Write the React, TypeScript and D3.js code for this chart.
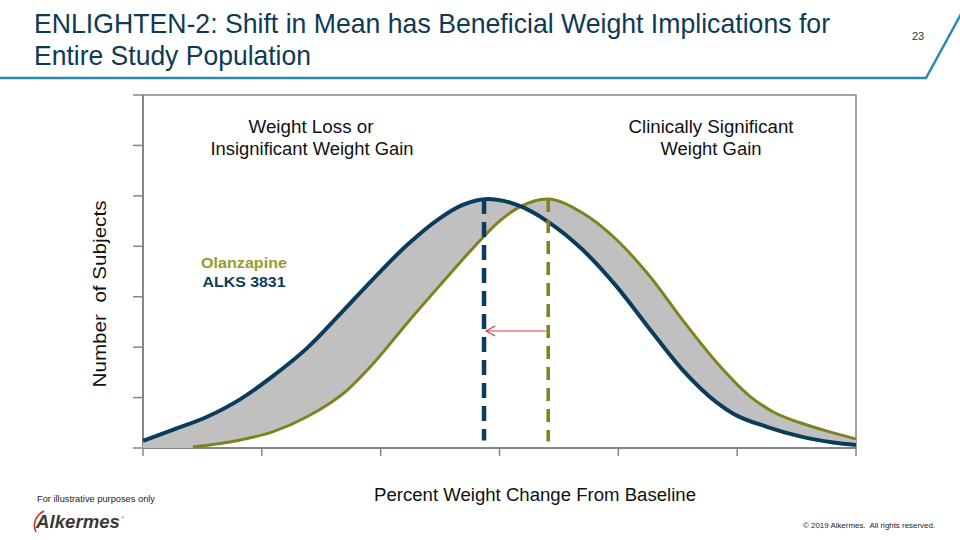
import React from "react";
import * as d3 from "d3";

// ---- data (arbitrary illustrative units) ----
const xTickValues = [0, 1, 2, 3, 4, 5, 6];
const yTickValues = [0, 1, 2, 3, 4, 5, 6, 7];

const alksX = [0, 0.25, 0.54, 0.82, 1.09, 1.38, 1.66, 1.94, 2.22, 2.5, 2.69, 2.9, 3.17, 3.4, 3.7, 3.99, 4.27, 4.54, 4.83, 4.96, 5.25, 5.53, 5.81, 6.0];
const alksY = [0.14, 0.36, 0.62, 0.97, 1.42, 1.98, 2.66, 3.36, 4.02, 4.56, 4.82, 4.94, 4.8, 4.5, 3.93, 3.19, 2.34, 1.55, 0.9, 0.69, 0.42, 0.23, 0.11, 0.06];

const olanzX = [0.42, 0.82, 1.09, 1.38, 1.72, 1.94, 2.22, 2.5, 2.78, 3.0, 3.17, 3.4, 3.7, 3.99, 4.27, 4.54, 4.83, 5.11, 5.3, 5.53, 5.81, 6.0];
const olanzY = [0.02, 0.16, 0.32, 0.62, 1.15, 1.68, 2.47, 3.23, 3.97, 4.5, 4.78, 4.94, 4.66, 4.12, 3.39, 2.54, 1.69, 1.02, 0.72, 0.5, 0.3, 0.18];

const alksMean = 2.87;
const olanzMean = 3.41;
const peakValue = 4.94;
const meanLineBottom = 0.15;
const arrowLevel = 2.32;

const titleLines = [
  "ENLIGHTEN-2: Shift in Mean has Beneficial Weight Implications for",
  "Entire Study Population",
];
const leftZoneLabel = ["Weight Loss or", "Insignificant Weight Gain"];
const rightZoneLabel = ["Clinically Significant", "Weight Gain"];
const seriesNames = ["Olanzapine", "ALKS 3831"];

const BLUE = "#0c3c5b";
const OLIVE = "#7e821f";
const OLIVE_TEXT = "#939c2f";
const AXIS = "#878787";
const TITLE = "#0d3b55";
const RULE = "#2b8ab4";

export default function App() {
  const left = 143, right = 856, top = 95, bottom = 448;
  const x = d3.scaleLinear().domain([0, 6]).range([left, right]);
  const y = d3.scaleLinear().domain([0, 7]).range([bottom, top]);

  const alksPts: [number, number][] = alksX.map((v, i) => [v, alksY[i]]);
  const olanzPts: [number, number][] = olanzX.map((v, i) => [v, olanzY[i]]);

  const line = d3
    .line<[number, number]>()
    .x((d) => x(d[0]))
    .y((d) => y(d[1]))
    .curve(d3.curveMonotoneX);

  const alksPath = line(alksPts) || "";
  const olanzPath = line(olanzPts) || "";
  const olanzRev = (line([...olanzPts].reverse()) || "").replace(/^M/, "L");
  const fillPath =
    alksPath +
    olanzRev +
    `L${x(olanzX[0])},${y(0)}L${x(0)},${y(0)}Z`;

  const font = "'Liberation Sans', Arial, sans-serif";
  const narrow = "'Liberation Sans Narrow', 'Arial Narrow', 'Liberation Sans', Arial, sans-serif";

  const ay = y(arrowLevel);
  const tipX = x(alksMean) + 2;

  return (
    <svg
      width={960}
      height={540}
      viewBox="0 0 960 540"
      style={{ position: "absolute", left: 0, top: 0, background: "#fff" }}
    >
      <rect x={0} y={0} width={960} height={540} fill="#fff" />
      {/* header */}
      <text x={34} y={33} fontFamily={narrow} fontSize={28} fill={TITLE} textLength={796} lengthAdjust="spacingAndGlyphs">
        {titleLines[0]}
      </text>
      <text x={34} y={65} fontFamily={narrow} fontSize={28} fill={TITLE} textLength={277} lengthAdjust="spacingAndGlyphs">
        {titleLines[1]}
      </text>
      <polyline points="0,78 926,78 961,14" fill="none" stroke={RULE} strokeWidth={2.5} />
      <text x={918} y={40} fontFamily={font} fontSize={11} fill="#333" textAnchor="middle">23</text>

      {/* plot box */}
      <rect x={left} y={top} width={right - left} height={bottom - top} fill="none" stroke={AXIS} strokeWidth={1.5} />
      <line x1={left} x2={left} y1={top} y2={bottom} stroke={AXIS} strokeWidth={2} />
      <line x1={left} x2={right} y1={bottom} y2={bottom} stroke={AXIS} strokeWidth={2} />
      {yTickValues.map((t) => (
        <line key={"yt" + t} x1={left - 10} x2={left} y1={y(t)} y2={y(t)} stroke={AXIS} strokeWidth={1.5} />
      ))}
      {xTickValues.map((t) => (
        <line key={"xt" + t} x1={x(t)} x2={x(t)} y1={bottom} y2={bottom + 8} stroke={AXIS} strokeWidth={1.5} />
      ))}

      {/* fill between curves */}
      <path d={fillPath} fill="#c0c0c0" stroke="none" />
      <path d={olanzPath} fill="none" stroke={OLIVE} strokeWidth={3} strokeLinejoin="round" />
      <path d={alksPath} fill="none" stroke={BLUE} strokeWidth={4} strokeLinejoin="round" />

      {/* mean lines */}
      <line x1={x(alksMean)} x2={x(alksMean)} y1={y(peakValue)} y2={y(meanLineBottom)} stroke={BLUE} strokeWidth={4.5} strokeDasharray="15 8" />
      <line x1={x(olanzMean)} x2={x(olanzMean)} y1={y(peakValue)} y2={y(meanLineBottom) + 1} stroke={OLIVE} strokeWidth={3.5} strokeDasharray="13 8" />

      {/* shift arrow */}
      <line x1={x(olanzMean) - 2} x2={tipX} y1={ay} y2={ay} stroke="#e03a3a" strokeWidth={1.2} />
      <polyline points={`${tipX + 9},${ay - 5} ${tipX},${ay} ${tipX + 9},${ay + 5}`} fill="none" stroke="#e03a3a" strokeWidth={1.2} />

      {/* zone labels */}
      <g fontFamily={font} fontSize={17.5} fill="#111" textAnchor="middle">
        <text x={311} y={133} textLength={125} lengthAdjust="spacingAndGlyphs">{leftZoneLabel[0]}</text>
        <text x={312} y={155} textLength={203} lengthAdjust="spacingAndGlyphs">{leftZoneLabel[1]}</text>
        <text x={711} y={133} textLength={165} lengthAdjust="spacingAndGlyphs">{rightZoneLabel[0]}</text>
        <text x={711} y={155} textLength={101} lengthAdjust="spacingAndGlyphs">{rightZoneLabel[1]}</text>
      </g>

      {/* legend */}
      <g fontFamily={font} fontSize={15.5} fontWeight="bold" textAnchor="middle">
        <text x={244} y={268} fill={OLIVE_TEXT} textLength={86} lengthAdjust="spacingAndGlyphs">{seriesNames[0]}</text>
        <text x={244} y={287} fill={BLUE} textLength={83} lengthAdjust="spacingAndGlyphs">{seriesNames[1]}</text>
      </g>

      {/* axis titles */}
      <text x={535} y={501} fontFamily={font} fontSize={18} fill="#111" textAnchor="middle" textLength={322} lengthAdjust="spacingAndGlyphs">
        Percent Weight Change From Baseline
      </text>
      <text
        transform={`translate(106,294) rotate(-90)`}
        fontFamily={font}
        fontSize={18}
        fill="#111"
        textAnchor="middle"
        textLength={187}
        lengthAdjust="spacingAndGlyphs"
        style={{ whiteSpace: "pre" }}
      >
        {"Number  of Subjects"}
      </text>

      {/* footer */}
      <text x={37} y={502} fontFamily={font} fontSize={9} fill="#222" textLength={118} lengthAdjust="spacingAndGlyphs">
        For illustrative purposes only
      </text>
      <path d="M44,511 C36,515 32,524 36,532" fill="none" stroke="#d9272e" strokeWidth={1.6} />
      <text x={36} y={528} fontFamily={font} fontSize={19} fontWeight="bold" fontStyle="italic" fill="#3a3a3a" textLength={84} lengthAdjust="spacingAndGlyphs">
        Alkermes
      </text>
      <text x={121} y={519} fontFamily={font} fontSize={4} fill="#3a3a3a">®</text>
      <text x={935} y={528} fontFamily={font} fontSize={8} fill="#222" textAnchor="end" textLength={132} lengthAdjust="spacingAndGlyphs" style={{ whiteSpace: "pre" }}>
        {"© 2019 Alkermes.  All rights reserved."}
      </text>
    </svg>
  );
}
